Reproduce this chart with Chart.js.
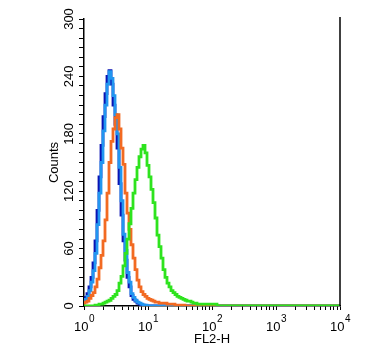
<!DOCTYPE html>
<html><head><meta charset="utf-8">
<script src="https://cdn.jsdelivr.net/npm/chart.js@4.4.1/dist/chart.umd.min.js"></script>
<style>html,body{margin:0;padding:0;background:#fff}#wrap{width:389px;height:352px;position:relative}</style>
</head><body><div id="wrap"><canvas id="c"></canvas></div>
<script>
// FL2-H channel (256 channels over 4 decades, 64 per decade)
const channels = [0,2,4,6,8,10,12,14,16,18,20,22,24,26,28,30,32,34,36,38,40,42,44,46,48,50,52,54,56,58,60,62,64,66,68,70,72,74,76,78,80,82,84,86,88,90,92,94,96,98,100,102,104,106,108,110,112,114,116,118,120,122,124,126,128,130,132,134,136,256];
const navyCounts = [7,9,13,20,30,45,68,100,135,168,198,222,240,246,232,210,190,165,128,95,68,48,30,20,11,7,5,3,2,1,1,0,0,0,0,0,0,0,0,0,0,0,0,0,0,0,0,0,0,0,0,0,0,0,0,0,0,0,0,0,0,0,0,0,0,0,0,0,0,0];
const blueCounts = [5,7,10,16,25,37,55,85,118,150,183,210,232,245,238,220,200,180,145,110,75,58,35,25,13,9,6,4,3,2,1,1,0,0,0,0,0,0,0,0,0,0,0,0,0,0,0,0,0,0,0,0,0,0,0,0,0,0,0,0,0,0,0,0,0,0,0,0,0,0];
const orangeCounts = [3,4,5,8,11,14,20,28,40,53,68,90,118,150,172,185,197,200,185,165,148,118,97,80,64,50,38,27,20,15,12,10,8,7,6,5,4,4,3,3,3,3,2,2,2,2,1,1,1,1,1,0,0,0,0,0,0,0,0,0,0,0,0,0,0,0,0,0,0,0];
const greenCounts = [0,0,0,0,0,0,1,1,2,2,3,4,5,6,8,10,12,16,24,31,42,55,70,86,102,118,132,145,156,164,168,160,147,135,122,108,92,74,62,50,38,30,24,20,16,14,12,10,9,8,7,6,5,5,4,3,3,2,2,2,2,2,2,2,2,2,2,0,0,0];
const yTickLabels = [0,60,120,180,240,300];
const xTickExponents = [0,1,2,3,4];
const xTitle = 'FL2-H';
const yTitle = 'Counts';

const toPts = arr => channels.map((ch, i) => ({x: Math.pow(10, ch / 64), y: arr[i]}));
const FONT = '"Liberation Sans", Arial, sans-serif';

const xTickValues = [];
for (let e = 0; e < 4; e++) for (let k = 1; k <= 9; k++) xTickValues.push(k * Math.pow(10, e));
xTickValues.push(10000);
const yTickValues = [];
for (let v = 0; v <= 300; v += 10) yTickValues.push(v);

const labelPlugin = {
  id: 'axisLabels',
  afterDraw(chart) {
    const {ctx, chartArea, scales: {x, y}} = chart;
    ctx.save();
    ctx.fillStyle = '#000';
    ctx.font = '13px ' + FONT;
    ctx.textAlign = 'center';
    ctx.textBaseline = 'middle';
    yTickLabels.forEach(v => {
      const py = y.getPixelForValue(v);
      ctx.save();
      ctx.translate(69, py);
      ctx.rotate(-Math.PI / 2);
      ctx.fillText(String(v), 0, 0);
      ctx.restore();
    });
    ctx.textAlign = 'left';
    ctx.textBaseline = 'alphabetic';
    xTickExponents.forEach(e => {
      const px = x.getPixelForValue(Math.pow(10, e));
      ctx.font = '13px ' + FONT;
      const w1 = ctx.measureText('10').width;
      ctx.font = '10px ' + FONT;
      const w2 = ctx.measureText(String(e)).width;
      const start = px - (w1 + w2) / 2;
      ctx.font = '13px ' + FONT;
      ctx.fillText('10', start, 331);
      ctx.font = '10px ' + FONT;
      ctx.fillText(String(e), start + w1 + 0.5, 322);
    });
    ctx.strokeStyle = '#000';
    ctx.lineWidth = 1.5;
    ctx.beginPath();
    ctx.moveTo(chartArea.right, chartArea.top - 2);
    ctx.lineTo(chartArea.right, chartArea.bottom);
    ctx.stroke();
    ctx.restore();
  }
};

const ds = (label, data, color, order) => ({
  label, data: toPts(data), borderColor: color, backgroundColor: color,
  borderWidth: 2.8, pointRadius: 0, stepped: 'middle', fill: false, order
});

new Chart(document.getElementById('c'), {
  type: 'line',
  data: {
    datasets: [
      ds('green', greenCounts, '#2ee31e', 0),
      ds('orange', orangeCounts, '#f26a22', 1),
      ds('blue', blueCounts, '#2196f0', 2),
      ds('navy', navyCounts, '#0a14b4', 3)
    ]
  },
  options: {
    responsive: true,
    maintainAspectRatio: false,
    animation: false,
    events: [],
    layout: {padding: {top: 19, right: 49, left: 0, bottom: 0}},
    plugins: {legend: {display: false}, tooltip: {enabled: false}},
    scales: {
      x: {
        type: 'logarithmic', min: 1, max: 10000,
        afterBuildTicks: s => { s.ticks = xTickValues.map(v => ({value: v})); },
        afterFit: s => { s.height = 46; },
        ticks: {display: false},
        grid: {drawOnChartArea: false, drawTicks: true, tickLength: 4, color: '#000', tickWidth: 1},
        border: {display: true, color: '#000', width: 1.5},
        title: {display: true, text: xTitle, color: '#000', font: {family: FONT, size: 13}, padding: {top: 0, bottom: 5}}
      },
      y: {
        type: 'linear', min: 0, max: 300,
        afterBuildTicks: s => { s.ticks = yTickValues.map(v => ({value: v})); },
        afterFit: s => { s.width = 84; },
        ticks: {display: false},
        grid: {drawOnChartArea: false, drawTicks: true, tickLength: 5, color: '#000', tickWidth: 1},
        border: {display: true, color: '#000', width: 1.5},
        title: {display: true, text: yTitle, color: '#000', font: {family: FONT, size: 13}, padding: {top: 47, bottom: 0}}
      }
    }
  },
  plugins: [labelPlugin]
});
</script></body></html>
